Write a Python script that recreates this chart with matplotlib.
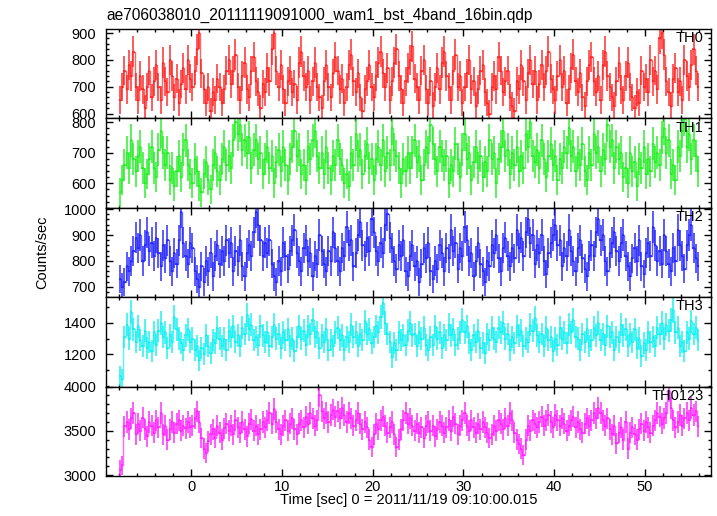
import numpy as np
import matplotlib
matplotlib.use('Agg')
import matplotlib.pyplot as plt
from matplotlib.ticker import MultipleLocator, FixedLocator

plt.rcParams['font.family'] = ['Liberation Sans', 'DejaVu Sans']

# 0.25 s bins starting at t = -8 s
dt = 0.25
t_start = -8.0

th0 = [
    650, 700, 760, 690, 780, 740, 830, 700, 650, 740, 690, 620, 700, 760, 660, 720,
    780, 700, 650, 790, 720, 680, 800, 740, 660, 730, 640, 710, 770, 690, 800, 730,
    700, 760, 840, 900, 750, 690, 640, 700, 610, 680, 650, 730, 700, 640, 690, 760,
    800, 710, 760, 820, 700, 650, 740, 790, 690, 660, 760, 810, 720, 680, 620, 710,
    680, 770, 720, 840, 900, 760, 700, 780, 690, 640, 720, 760, 680, 710, 650, 790,
    830, 740, 700, 760, 650, 720, 790, 700, 660, 620, 720, 780, 700, 660, 750, 810,
    760, 690, 730, 640, 700, 780, 820, 720, 680, 750, 660, 610, 690, 720, 780, 700,
    660, 740, 790, 830, 750, 700, 770, 650, 720, 790, 840, 740, 690, 640, 720, 770,
    800, 850, 730, 700, 650, 760, 800, 690, 640, 720, 630, 700, 770, 690, 790, 830,
    740, 700, 650, 760, 820, 700, 740, 640, 700, 750, 800, 690, 720, 630, 690, 760,
    780, 680, 640, 600, 700, 740, 690, 810, 760, 680, 720, 760, 660, 630, 610, 720,
    690, 780, 720, 650, 750, 800, 710, 760, 650, 710, 780, 700, 760, 830, 730, 690,
    650, 740, 800, 700, 760, 640, 690, 770, 820, 720, 680, 750, 660, 630, 720, 780,
    810, 720, 680, 740, 650, 780, 830, 740, 700, 660, 630, 720, 790, 690, 650, 740,
    790, 700, 660, 620, 680, 640, 760, 700, 730, 680, 800, 720, 760, 690, 880, 900,
    820, 720, 680, 630, 730, 770, 680, 720, 650, 800, 740, 700, 780, 840, 760, 700,
]

th1 = [
    570, 610, 660, 700, 650, 740, 680, 640, 690, 720, 650, 600, 630, 680, 720, 650,
    620, 710, 770, 700, 660, 700, 610, 650, 590, 640, 690, 620, 710, 740, 660, 630,
    600, 680, 640, 590, 570, 630, 670, 610, 580, 660, 700, 640, 610, 680, 720, 660,
    690, 650, 740, 800, 760, 790, 710, 740, 700, 750, 650, 710, 740, 680, 700, 630,
    680, 720, 650, 690, 600, 670, 710, 640, 720, 660, 610, 680, 720, 770, 690, 710,
    630, 660, 610, 720, 680, 740, 770, 690, 650, 700, 630, 720, 650, 610, 690, 660,
    740, 680, 660, 600, 630, 590, 700, 660, 760, 690, 710, 630, 690, 730, 650, 680,
    610, 680, 720, 660, 740, 640, 700, 660, 780, 710, 690, 650, 600, 680, 640, 700,
    650, 700, 740, 670, 690, 610, 660, 720, 700, 790, 730, 680, 640, 720, 690, 660,
    690, 600, 660, 640, 730, 680, 620, 710, 760, 680, 700, 610, 670, 720, 650, 690,
    620, 670, 640, 740, 680, 700, 600, 680, 720, 770, 690, 710, 630, 700, 660, 720,
    640, 690, 650, 760, 720, 800, 690, 670, 710, 650, 740, 680, 620, 690, 730, 660,
    690, 610, 680, 650, 720, 700, 780, 690, 720, 640, 700, 660, 730, 640, 610, 700,
    660, 760, 700, 720, 640, 710, 680, 790, 720, 740, 650, 720, 680, 700, 620, 650,
    600, 700, 640, 670, 590, 680, 650, 720, 630, 680, 640, 730, 670, 700, 660, 750,
    780, 700, 740, 630, 660, 610, 720, 690, 770, 810, 720, 760, 680, 740, 690, 640,
]

th2 = [
    730, 700, 720, 780, 760, 800, 840, 890, 850, 900, 800, 860, 910, 840, 870, 820,
    890, 830, 780, 860, 810, 880, 800, 760, 830, 790, 880, 990, 870, 820, 790, 870,
    850, 760, 730, 700, 780, 720, 800, 760, 830, 740, 820, 860, 790, 840, 800, 880,
    830, 870, 760, 840, 800, 880, 780, 740, 830, 860, 820, 910, 990, 940, 880, 820,
    870, 830, 880, 790, 740, 720, 800, 760, 870, 820, 770, 840, 880, 920, 830, 800,
    760, 850, 880, 800, 830, 740, 820, 790, 900, 840, 790, 760, 840, 800, 910, 850,
    800, 760, 850, 820, 930, 860, 880, 780, 830, 900, 950, 860, 820, 890, 840, 960,
    910, 840, 800, 870, 830, 940, 980, 890, 850, 800, 770, 860, 820, 880, 760, 740,
    820, 860, 780, 800, 720, 790, 850, 810, 870, 760, 730, 800, 770, 860, 830, 760,
    850, 810, 920, 840, 870, 770, 850, 820, 930, 880, 800, 830, 740, 800, 870, 790,
    760, 720, 800, 780, 860, 830, 900, 810, 760, 850, 890, 820, 780, 850, 810, 920,
    850, 890, 820, 910, 960, 870, 900, 790, 860, 830, 900, 800, 750, 830, 870, 900,
    940, 860, 880, 780, 850, 820, 920, 840, 800, 760, 850, 880, 810, 770, 740, 820,
    860, 820, 910, 960, 880, 900, 800, 760, 830, 870, 910, 840, 800, 870, 900, 820,
    780, 740, 810, 850, 800, 880, 780, 750, 830, 870, 820, 930, 860, 800, 840, 790,
    900, 840, 790, 760, 850, 800, 920, 860, 820, 770, 860, 900, 940, 850, 810, 780,
]

th3 = [
    1060, 1040, 1310, 1390, 1300, 1470, 1360, 1280, 1380, 1290, 1250, 1350, 1240, 1280, 1220, 1340,
    1260, 1350, 1400, 1310, 1340, 1240, 1320, 1280, 1440, 1360, 1300, 1270, 1230, 1320, 1360, 1280,
    1300, 1230, 1250, 1160, 1240, 1200, 1320, 1250, 1210, 1290, 1270, 1370, 1300, 1250, 1300, 1230,
    1350, 1310, 1380, 1280, 1320, 1250, 1370, 1330, 1450, 1360, 1390, 1290, 1310, 1260, 1380, 1320,
    1280, 1340, 1250, 1310, 1390, 1300, 1330, 1240, 1340, 1290, 1360, 1250, 1300, 1220, 1310, 1380,
    1300, 1350, 1260, 1380, 1330, 1420, 1310, 1340, 1240, 1320, 1280, 1360, 1230, 1290, 1250, 1340,
    1370, 1290, 1320, 1230, 1310, 1280, 1390, 1310, 1340, 1250, 1330, 1290, 1410, 1330, 1360, 1270,
    1310, 1380, 1340, 1440, 1530, 1400, 1330, 1280, 1180, 1270, 1230, 1340, 1290, 1320, 1260, 1350,
    1400, 1320, 1330, 1250, 1340, 1300, 1370, 1260, 1230, 1310, 1260, 1380, 1300, 1340, 1240, 1320,
    1290, 1390, 1320, 1360, 1260, 1300, 1340, 1420, 1340, 1380, 1270, 1230, 1320, 1280, 1350, 1240,
    1270, 1210, 1330, 1290, 1370, 1300, 1280, 1370, 1340, 1400, 1300, 1330, 1230, 1310, 1270, 1380,
    1320, 1350, 1250, 1300, 1280, 1390, 1350, 1430, 1320, 1280, 1330, 1250, 1370, 1290, 1310, 1220,
    1300, 1260, 1370, 1300, 1340, 1270, 1390, 1340, 1420, 1310, 1300, 1230, 1330, 1280, 1360, 1250,
    1290, 1370, 1320, 1400, 1290, 1330, 1260, 1380, 1310, 1340, 1230, 1310, 1280, 1390, 1320, 1360,
    1250, 1330, 1280, 1360, 1240, 1300, 1190, 1270, 1230, 1340, 1280, 1310, 1250, 1370, 1330, 1400,
    1300, 1390, 1350, 1420, 1480, 1340, 1370, 1250, 1280, 1220, 1340, 1300, 1410, 1330, 1370, 1290,
]

th0123 = [
    3060, 3110, 3550, 3600, 3520, 3640, 3700, 3460, 3580, 3500, 3650, 3520, 3440, 3600, 3560, 3480,
    3620, 3540, 3700, 3460, 3560, 3400, 3520, 3600, 3480, 3580, 3620, 3500, 3560, 3530, 3600, 3540,
    3560, 3640, 3720, 3600, 3420, 3300, 3250, 3380, 3460, 3520, 3420, 3560, 3480, 3400, 3530, 3580,
    3500, 3560, 3460, 3620, 3540, 3480, 3600, 3520, 3440, 3580, 3630, 3500, 3560, 3460, 3520, 3600,
    3540, 3620, 3700, 3580, 3750, 3600, 3520, 3460, 3560, 3620, 3500, 3580, 3640, 3520, 3460, 3580,
    3620, 3540, 3660, 3580, 3700, 3640, 3560, 3620, 3900, 3720, 3640, 3700, 3600, 3680, 3740, 3660,
    3720, 3640, 3760, 3680, 3600, 3700, 3640, 3560, 3620, 3700, 3580, 3520, 3600, 3540, 3400, 3320,
    3460, 3580, 3520, 3620, 3660, 3560, 3480, 3540, 3600, 3460, 3320, 3400, 3520, 3620, 3700, 3580,
    3640, 3560, 3500, 3580, 3480, 3540, 3420, 3560, 3600, 3500, 3560, 3440, 3520, 3600, 3560, 3480,
    3540, 3620, 3500, 3660, 3580, 3460, 3560, 3620, 3700, 3560, 3500, 3620, 3540, 3480, 3580, 3520,
    3600, 3540, 3480, 3420, 3460, 3560, 3500, 3620, 3580, 3520, 3640, 3560, 3700, 3620, 3480, 3400,
    3350, 3300, 3230, 3400, 3560, 3500, 3620, 3580, 3540, 3600, 3660, 3560, 3620, 3680, 3600, 3540,
    3680, 3620, 3560, 3640, 3580, 3500, 3560, 3620, 3660, 3540, 3600, 3520, 3480, 3580, 3640, 3560,
    3620, 3700, 3640, 3760, 3700, 3620, 3560, 3640, 3520, 3460, 3560, 3360, 3480, 3540, 3400, 3600,
    3300, 3480, 3540, 3460, 3400, 3520, 3580, 3500, 3600, 3540, 3480, 3560, 3620, 3700, 3660, 3580,
    3640, 3700, 3950, 3760, 3620, 3540, 3600, 3680, 3560, 3640, 3700, 3620, 3760, 3680, 3720, 3550,
]

# name, rates, colour, y range, labelled ticks, minor step
panels = [
    ('TH0', th0, '#ff2222', (582, 915), [600, 700, 800, 900], 20),
    ('TH1', th1, '#22ee22', (520, 812), [600, 700, 800], 20),
    ('TH2', th2, '#2222ff', (660, 1005), [700, 800, 900, 1000], 20),
    ('TH3', th3, '#11f0f0', (993, 1565), [1200, 1400], 100),
    ('TH0123', th0123, '#ff22ff', (2990, 4000), [3000, 3500, 4000], 100),
]

W, H = 717, 516
fig = plt.figure(figsize=(W / 100, H / 100), dpi=100)

left, right = 106, 711
top, bottom = 29, 476
ph = (bottom - top) / len(panels)

axes = []
for i, (name, vals, col, ylim, yt, minor) in enumerate(panels):
    rate = np.array(vals, dtype=float)
    time = t_start + dt / 2 + dt * np.arange(len(rate))
    err = np.sqrt(rate / dt)

    y0 = top + i * ph
    ax = fig.add_axes([left / W, 1 - (y0 + ph) / H, (right - left) / W, ph / H])
    ax.plot(time, rate, drawstyle='steps-mid', color=col, lw=1.0, alpha=0.7)
    ax.errorbar(time, rate, xerr=dt / 2, yerr=err, fmt='none',
                ecolor=col, elinewidth=1.3, alpha=0.8)
    ax.set_xlim(-9.4, 57.3)
    ax.set_ylim(*ylim)
    ax.xaxis.set_major_locator(MultipleLocator(10))
    ax.xaxis.set_minor_locator(MultipleLocator(2))
    ax.yaxis.set_major_locator(FixedLocator(yt))
    ax.yaxis.set_minor_locator(MultipleLocator(minor))
    ax.tick_params(which='both', direction='in', top=True, right=True,
                   labelsize=10.5, width=1, pad=7)
    ax.tick_params(which='major', length=5)
    ax.tick_params(which='minor', length=2.5)
    ax.tick_params(axis='x', labelbottom=(i == len(panels) - 1), pad=3)
    for s in ax.spines.values():
        s.set_linewidth(1.0)
    ax.text(0.988, 0.975, name, transform=ax.transAxes, ha='right', va='top',
            fontsize=10.5)
    axes.append(ax)

axes[-1].set_xlabel('Time [sec] 0 = 2011/11/19 09:10:00.015', fontsize=10.5, labelpad=-1)
fig.text(42 / W, 1 - 252 / H, 'Counts/sec', rotation=90, ha='center', va='center',
         fontsize=10.5)
fig.text(106 / W, 1 - 20 / H, 'ae706038010_20111119091000_wam1_bst_4band_16bin.qdp',
         ha='left', va='baseline', fontsize=11.2)

fig.savefig('out.png', dpi=100)
